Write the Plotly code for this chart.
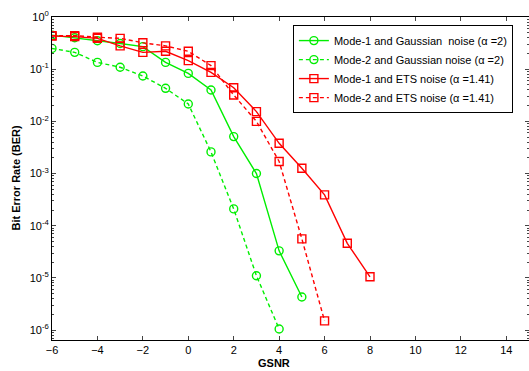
import plotly.graph_objects as go

x_g1 = [-6, -5, -4, -3, -2, -1, 0, 1, 2, 3, 4, 5]
ber_g1 = [0.45, 0.40, 0.35, 0.31, 0.27, 0.135, 0.083, 0.040, 0.0051, 0.0010, 3.3e-5, 4.3e-6]

x_g2 = [-6, -5, -4, -3, -2, -1, 0, 1, 2, 3, 4]
ber_g2 = [0.25, 0.21, 0.135, 0.109, 0.074, 0.043, 0.0215, 0.0026, 2.1e-4, 1.1e-5, 1.05e-6]

x_e1 = [-6, -5, -4, -3, -2, -1, 0, 1, 2, 3, 4, 5, 6, 7, 8]
ber_e1 = [0.43, 0.42, 0.39, 0.28, 0.21, 0.22, 0.146, 0.087, 0.044, 0.0154, 0.0038, 0.00126, 3.9e-4, 4.6e-5, 1.05e-5]

x_e2 = [-6, -5, -4, -3, -2, -1, 0, 1, 2, 3, 4, 5, 6]
ber_e2 = [0.44, 0.44, 0.41, 0.39, 0.32, 0.28, 0.22, 0.117, 0.032, 0.010, 0.0017, 5.6e-5, 1.5e-6]

names = [
    "Mode-1 and Gaussian\u00a0 noise (\u03b1 =2)",
    "Mode-2 and Gaussian noise (\u03b1 =2)",
    "Mode-1 and ETS noise (\u03b1 =1.41)",
    "Mode-2 and ETS noise (\u03b1 =1.41)",
]
x_ticks = [-6, -4, -2, 0, 2, 4, 6, 8, 10, 12, 14]
y_tickvals = [1e-6, 1e-5, 1e-4, 1e-3, 1e-2, 1e-1, 1]
y_ticktext = ["10<sup>-6</sup>", "10<sup>-5</sup>", "10<sup>-4</sup>", "10<sup>-3</sup>",
              "10<sup>-2</sup>", "10<sup>-1</sup>", "10<sup>0</sup>"]
x_title = "GSNR"
y_title = "Bit Error Rate (BER)"

GREEN = "#00ee00"
RED = "#ff0000"

fig = go.Figure()
series = [
    (x_g1, ber_g1, GREEN, "solid", "circle-open"),
    (x_g2, ber_g2, GREEN, "4px,3px", "circle-open"),
    (x_e1, ber_e1, RED, "solid", "square-open"),
    (x_e2, ber_e2, RED, "4px,3px", "square-open"),
]
for (xs, ys, col, dash, sym), nm in zip(series, names):
    fig.add_trace(go.Scatter(
        x=xs, y=ys, name=nm, mode="lines+markers",
        line=dict(color=col, width=1.4, dash=dash),
        marker=dict(symbol=sym, size=8, color=col, line=dict(width=1.4, color=col)),
    ))

fig.update_layout(
    width=529, height=371,
    margin=dict(l=52, r=0, t=17, b=31),
    paper_bgcolor="white", plot_bgcolor="white",
    font=dict(family="Liberation Sans, Arial, sans-serif", size=11, color="black"),
    showlegend=True,
    legend=dict(
        x=0.505, y=0.975, xanchor="left", yanchor="top",
        bgcolor="white", bordercolor="black", borderwidth=1,
        font=dict(size=11), tracegroupgap=0, itemwidth=30,
    ),
    annotations=[
        dict(text="<b>" + x_title + "</b>", xref="paper", yref="paper",
             x=0.5 - 0.5 * 52 / 477 + 0.02, y=0, yshift=-31, xanchor="center", yanchor="bottom",
             showarrow=False, font=dict(size=11)),
        dict(text="<b>" + y_title + "</b>", xref="paper", yref="paper",
             x=0, xshift=-52 + 7, y=0.5, xanchor="left", yanchor="middle", textangle=-90,
             showarrow=False, font=dict(size=11)),
    ],
)
fig.update_xaxes(
    range=[-6, 15], tickvals=x_ticks, ticks="inside", ticklen=4,
    showline=True, linecolor="black", linewidth=1, mirror="ticks",
    showgrid=False, zeroline=False, tickfont=dict(size=11), automargin=False,
)
fig.update_yaxes(
    type="log", range=[-6.19, 0], tickvals=y_tickvals, ticktext=y_ticktext,
    ticks="inside", ticklen=4,
    minor=dict(ticks="inside", ticklen=2, dtick="D1", showgrid=False),
    showline=True, linecolor="black", linewidth=1, mirror="ticks",
    showgrid=False, zeroline=False, tickfont=dict(size=11), automargin=False,
)

fig.write_html("out.html", post_script="document.body.style.margin='0';",
               config={"displayModeBar": False})
